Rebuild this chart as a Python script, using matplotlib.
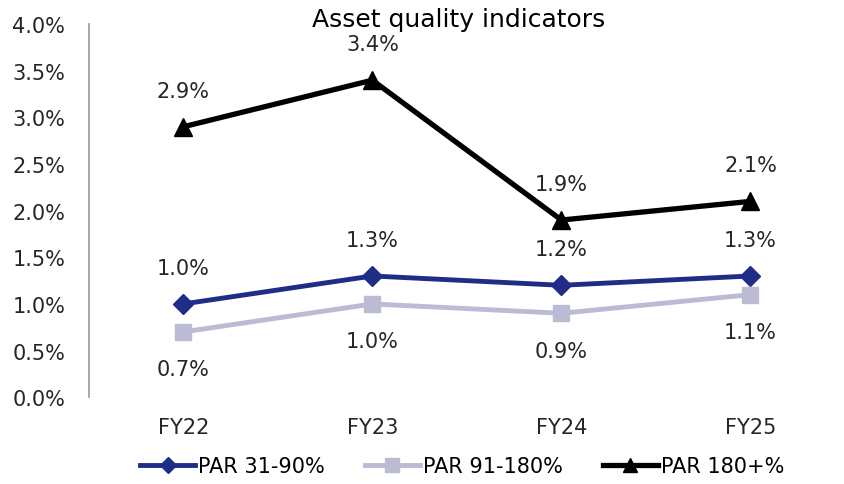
import matplotlib
matplotlib.use("Agg")
import matplotlib.pyplot as plt
from matplotlib.ticker import FuncFormatter

plt.rcParams["font.family"] = ["DejaVu Sans"]

years = ["FY22", "FY23", "FY24", "FY25"]
par_31_90 = [1.0, 1.3, 1.2, 1.3]
par_91_180 = [0.7, 1.0, 0.9, 1.1]
par_180 = [2.9, 3.4, 1.9, 2.1]

navy = "#1f2d86"
lavender = "#bbbbd3"
black = "#000000"

fig = plt.figure(figsize=(8.45, 4.85), dpi=100)
ax = fig.add_axes([0.105, 0.179, 0.895, 0.769])

x = list(range(len(years)))
ax.plot(x, par_31_90, color=navy, lw=3.5, marker="D", ms=10, label="PAR 31-90%")
ax.plot(x, par_91_180, color=lavender, lw=3.5, marker="s", ms=12, label="PAR 91-180%")
ax.plot(x, par_180, color=black, lw=3.8, marker="^", ms=13, label="PAR 180+%")

# labels: top two series above, middle series below
for series, dy in [(par_31_90, 26), (par_91_180, -27), (par_180, 26)]:
    for xi, v in zip(x, series):
        ax.annotate(f"{v:.1f}%", (xi, v), xytext=(0, dy), textcoords="offset points",
                    ha="center", va="center", fontsize=15, color="#262626")

ax.set_xlim(-0.5, 3.5)
ax.set_ylim(0, 4.0)
ax.set_yticks([0, 0.5, 1.0, 1.5, 2.0, 2.5, 3.0, 3.5, 4.0])
ax.yaxis.set_major_formatter(FuncFormatter(lambda v, p: f"{v:.1f}%"))
ax.set_xticks(x)
ax.set_xticklabels(years)
ax.tick_params(axis="both", length=0, labelsize=15, colors="#262626")
ax.tick_params(axis="x", pad=14)
ax.tick_params(axis="y", pad=17)

for s in ["top", "right", "bottom"]:
    ax.spines[s].set_visible(False)
ax.spines["left"].set_color("#999999")
ax.spines["left"].set_linewidth(1.2)

fig.text(0.543, 0.959, "Asset quality indicators", ha="center", va="center", fontsize=18)

fig.legend(loc="center", bbox_to_anchor=(0.547, 0.037), ncol=3, frameon=False,
           fontsize=15, handlelength=2.65, handletextpad=0.15, columnspacing=1.9,
           markerscale=0.8)

fig.savefig("out.png", dpi=100)
